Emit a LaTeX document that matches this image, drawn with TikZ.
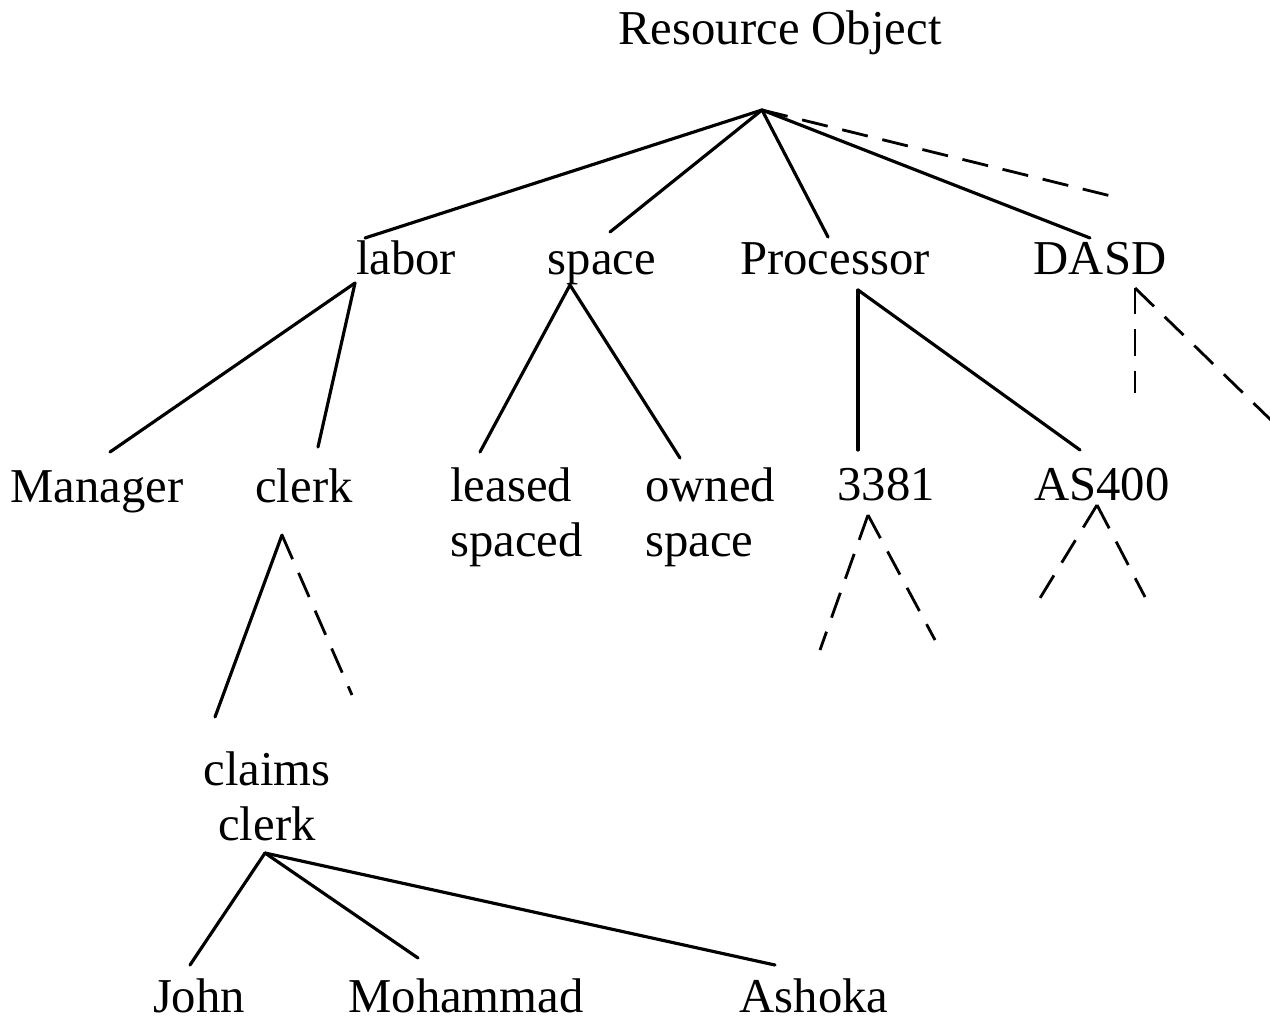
\documentclass[tikz,border=0pt]{standalone}
\usepackage{fontspec}
\setmainfont{Liberation Serif}
\usepackage{tikz}
\usetikzlibrary{positioning}
\tikzset{
  tlbl/.style={inner sep=0pt, anchor=base, font=\fontsize{27.7}{31.3}\selectfont},
  tlblm/.style={tlbl, align=left},
  tedge/.style={black, line width=1.8pt, line cap=round},
  tstub/.style={black, line width=1.6pt, dash pattern=on 15pt off 8.5pt},
}

\begin{document}
\begin{tikzpicture}[x=0.02cm,y=-0.02cm]
  \useasboundingbox (0,0) rectangle (1270,1021);

  % raiz
  \node[tlbl] (root) at (780,44) {Resource Object};
  \coordinate (root-out) at (762,110);
  \coordinate (root-s) at (1115,197);

  % primeiro nivel
  \node[tlbl] (labor) at (406,274) {labor};
  \node[tlbl] (space) at (602,274) {space};
  \node[tlbl] (proc) at (835,274) {Processor};
  \node[tlbl] (dasd) at (1100,274) {DASD};
  \coordinate (labor-in) at (365,238);
  \coordinate (space-in) at (610,232);
  \coordinate (proc-in) at (828,237);
  \coordinate (dasd-in) at (1090,238);
  \coordinate (labor-out) at (355,283);
  \coordinate (space-out) at (570,285);
  \coordinate (proc-out) at (858,290);
  \coordinate (dasd-out) at (1135,288);
  \coordinate (dasd-s1) at (1135,393);
  \coordinate (dasd-s2) at (1275,424);

  % segundo nivel
  \node[tlbl] (manager) at (97,502) {Manager};
  \node[tlbl] (clerk) at (304,502) {clerk};
  \node[tlblm, anchor=base west] (leased) at (450,556) {leased\\spaced};
  \node[tlblm, anchor=base west] (owned) at (645,556) {owned\\space};
  \node[tlbl] (n3381) at (886,500) {3381};
  \node[tlbl] (as400) at (1102,500) {AS400};
  \coordinate (manager-in) at (110,452);
  \coordinate (clerk-in) at (318,447);
  \coordinate (leased-in) at (480,452);
  \coordinate (owned-in) at (680,458);
  \coordinate (n3381-in) at (858,450);
  \coordinate (as400-in) at (1080,450);
  \coordinate (clerk-out) at (282,535);
  \coordinate (clerk-s) at (352,695);
  \coordinate (n3381-out) at (868,515);
  \coordinate (n3381-s1) at (820,650);
  \coordinate (n3381-s2) at (935,640);
  \coordinate (as400-out) at (1097,505);
  \coordinate (as400-s1) at (1037,603);
  \coordinate (as400-s2) at (1145,597);

  % claims clerk e folhas
  \node[tlblm, align=center] (claims) at (267,840) {claims\\clerk};
  \coordinate (claims-in) at (215,717);
  \coordinate (claims-out) at (265,853);
  \node[tlbl] (john) at (199,1012) {John};
  \node[tlbl] (moh) at (466,1012) {Mohammad};
  \node[tlbl] (ash) at (814,1012) {Ashoka};
  \coordinate (john-in) at (190,965);
  \coordinate (moh-in) at (418,958);
  \coordinate (ash-in) at (775,965);

  % arestas
  \foreach \a/\b in {root-out/labor-in, root-out/space-in, root-out/proc-in,
                     root-out/dasd-in, labor-out/manager-in, labor-out/clerk-in,
                     space-out/leased-in, space-out/owned-in, proc-out/n3381-in,
                     proc-out/as400-in, clerk-out/claims-in, claims-out/john-in,
                     claims-out/moh-in, claims-out/ash-in}
    \draw[tedge] (\a) -- (\b);

  % ramos nao mostrados
  \foreach \a/\b in {root-out/root-s, dasd-out/dasd-s1, dasd-out/dasd-s2,
                     clerk-out/clerk-s, n3381-out/n3381-s1, n3381-out/n3381-s2,
                     as400-out/as400-s1, as400-out/as400-s2}
    \draw[tstub] (\a) -- (\b);

\end{tikzpicture}
\end{document}
